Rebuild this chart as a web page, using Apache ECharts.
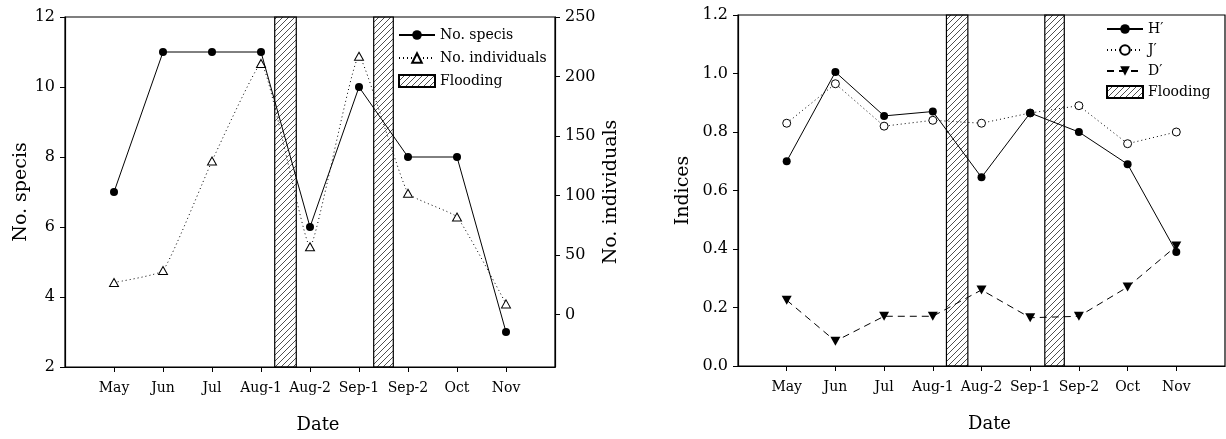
<!DOCTYPE html>
<html>
<head>
<meta charset="utf-8">
<script src="https://cdn.jsdelivr.net/npm/echarts@6/dist/echarts.min.js"></script>
<style>
html,body{margin:0;padding:0;background:#fff;}
#c{width:1226px;height:439px;}
</style>
</head>
<body>
<div id="c"></div>
<script>
const categories = ['May','Jun','Jul','Aug-1','Aug-2','Sep-1','Sep-2','Oct','Nov'];
const noSpecies = [7, 11, 11, 11, 6, 10, 8, 8, 3];
const noIndividuals = [27, 37, 129, 211, 57, 217, 102, 82, 9];
const hPrime = [0.70, 1.005, 0.855, 0.87, 0.645, 0.865, 0.80, 0.69, 0.39];
const jPrime = [0.83, 0.965, 0.82, 0.84, 0.83, 0.865, 0.89, 0.76, 0.80];
const dPrime = [0.225, 0.085, 0.17, 0.17, 0.26, 0.165, 0.17, 0.27, 0.41];
const floodSpans = [[4.28, 4.72], [6.3, 6.7]];
const speciesTicks = [2, 4, 6, 8, 10, 12];
const individualTicks = [0, 50, 100, 150, 200, 250];
const indexTicks = [0, 0.2, 0.4, 0.6, 0.8, 1.0, 1.2];

const FONT = 'DejaVu Serif';
const catPos = categories.map((c, i) => i + 1);
const toXY = arr => arr.map((v, i) => [catPos[i], v]);

function hatchCanvas() {
  const c = document.createElement('canvas');
  c.width = 6; c.height = 6;
  const g = c.getContext('2d');
  g.strokeStyle = '#222';
  g.lineWidth = 0.8;
  g.beginPath();
  g.moveTo(0, 6); g.lineTo(6, 0);
  g.moveTo(-1, 1); g.lineTo(1, -1);
  g.moveTo(5, 7); g.lineTo(7, 5);
  g.stroke();
  return c;
}
const hatch = { image: hatchCanvas(), repeat: 'repeat' };

const chart = echarts.init(document.getElementById('c'), null, { renderer: 'canvas' });

function xAxisFor(gridIndex) {
  return {
    type: 'value', gridIndex, min: 0, max: 10,
    name: 'Date', nameLocation: 'middle', nameGap: 49,
    nameTextStyle: { fontFamily: FONT, fontSize: 18, color: '#000', padding: [0, 0, 0, 16] },
    axisLine: { onZero: false, lineStyle: { color: '#000', width: 1.2 } },
    axisTick: { show: true, length: 5, inside: false, customValues: catPos, lineStyle: { color: '#000' } },
    axisLabel: { customValues: catPos, formatter: v => categories[Math.round(v) - 1] || '', fontFamily: FONT, fontSize: 14, color: '#000', margin: 14 },
    splitLine: { show: false }
  };
}

function floodRender(params, api) {
  const a = api.coord([api.value(0), 0]);
  const b = api.coord([api.value(1), 0]);
  const cs = params.coordSys;
  return {
    type: 'rect',
    shape: { x: a[0], y: cs.y, width: b[0] - a[0], height: cs.height },
    style: { fill: hatch, stroke: '#000', lineWidth: 1.2 }
  };
}

const option = {
  backgroundColor: '#fff',
  animation: false,
  grid: [
    { left: 65, top: 17, width: 490, height: 353, show: true, borderColor: '#000', borderWidth: 1.2, containLabel: false },
    { left: 738, top: 15, width: 487, height: 351, show: true, borderColor: '#000', borderWidth: 1.2, containLabel: false }
  ],
  legend: [
    {
      data: ['No. specis', 'No. individuals', { name: 'Flooding', icon: 'rect' }],
      orient: 'vertical', left: 398, top: 27, padding: 0, itemWidth: 36, itemHeight: 12, itemGap: 7, itemTextGap: 6,
      textStyle: { fontFamily: FONT, fontSize: 14, color: '#000', lineHeight: 16 }
    },
    {
      data: ['H′', 'J′', 'D′', { name: 'Flooding', icon: 'rect' }],
      orient: 'vertical', left: 1106, top: 21, padding: 0, itemWidth: 36, itemHeight: 12, itemGap: 5, itemTextGap: 6,
      textStyle: { fontFamily: FONT, fontSize: 14, color: '#000', lineHeight: 16 }
    }
  ],
  xAxis: [xAxisFor(0), xAxisFor(1)],
  yAxis: [
    {
      type: 'value', gridIndex: 0, min: 2, max: 12, interval: 2,
      name: 'No. specis', nameLocation: 'middle', nameGap: 34,
      nameTextStyle: { fontFamily: FONT, fontSize: 19, color: '#000' },
      axisLine: { show: true, onZero: false, lineStyle: { color: '#000', width: 1.2 } },
      axisTick: { show: true, length: 5, lineStyle: { color: '#000' } },
      axisLabel: { fontFamily: FONT, fontSize: 16, color: '#000', margin: 10 },
      splitLine: { show: false }
    },
    {
      type: 'value', gridIndex: 0, position: 'right', min: -44, max: 250,
      name: 'No. individuals', nameLocation: 'middle', nameGap: 47,
      nameTextStyle: { fontFamily: FONT, fontSize: 19, color: '#000' },
      axisLine: { show: true, onZero: false, lineStyle: { color: '#000', width: 1.2 } },
      axisTick: { show: true, length: 5, customValues: individualTicks, lineStyle: { color: '#000' } },
      axisLabel: { customValues: individualTicks, fontFamily: FONT, fontSize: 16, color: '#000', margin: 10 },
      splitLine: { show: false }
    },
    {
      type: 'value', gridIndex: 1, min: 0, max: 1.2, interval: 0.2,
      name: 'Indices', nameLocation: 'middle', nameGap: 45,
      nameTextStyle: { fontFamily: FONT, fontSize: 19, color: '#000' },
      axisLine: { show: true, onZero: false, lineStyle: { color: '#000', width: 1.2 } },
      axisTick: { show: true, length: 5, lineStyle: { color: '#000' } },
      axisLabel: { formatter: v => v.toFixed(1), fontFamily: FONT, fontSize: 16, color: '#000', margin: 10 },
      splitLine: { show: false }
    }
  ],
  series: [
    {
      name: 'Flooding', type: 'custom', xAxisIndex: 0, yAxisIndex: 0, z: 1,
      renderItem: floodRender, encode: { x: [0, 1] }, data: floodSpans,
      itemStyle: { color: hatch, borderColor: '#000', borderWidth: 1 }
    },
    {
      name: 'No. specis', type: 'line', xAxisIndex: 0, yAxisIndex: 0, z: 3,
      data: toXY(noSpecies), symbol: 'circle', symbolSize: 8,
      lineStyle: { color: '#000', width: 1 }, itemStyle: { color: '#000' }
    },
    {
      name: 'No. individuals', type: 'line', xAxisIndex: 0, yAxisIndex: 1, z: 2,
      data: toXY(noIndividuals), symbol: 'triangle', symbolSize: [9, 8], smooth: 0.12,
      lineStyle: { color: '#000', width: 1, type: [1, 3] },
      itemStyle: { color: '#fff', borderColor: '#000', borderWidth: 1 }
    },
    {
      name: 'Flooding', type: 'custom', xAxisIndex: 1, yAxisIndex: 2, z: 1,
      renderItem: floodRender, encode: { x: [0, 1] }, data: floodSpans,
      itemStyle: { color: hatch, borderColor: '#000', borderWidth: 1 }
    },
    {
      name: 'H′', type: 'line', xAxisIndex: 1, yAxisIndex: 2, z: 3,
      data: toXY(hPrime), symbol: 'circle', symbolSize: 8,
      lineStyle: { color: '#000', width: 1 }, itemStyle: { color: '#000' }
    },
    {
      name: 'J′', type: 'line', xAxisIndex: 1, yAxisIndex: 2, z: 2,
      data: toXY(jPrime), symbol: 'circle', symbolSize: 8,
      lineStyle: { color: '#000', width: 1, type: [1, 3] },
      itemStyle: { color: '#fff', borderColor: '#000', borderWidth: 1 }
    },
    {
      name: 'D′', type: 'line', xAxisIndex: 1, yAxisIndex: 2, z: 2,
      data: toXY(dPrime), symbol: 'triangle', symbolRotate: 180, symbolSize: [10, 9],
      lineStyle: { color: '#000', width: 1, type: [7, 5] },
      itemStyle: { color: '#000' }
    }
  ]
};
chart.setOption(option);
</script>
</body>
</html>
